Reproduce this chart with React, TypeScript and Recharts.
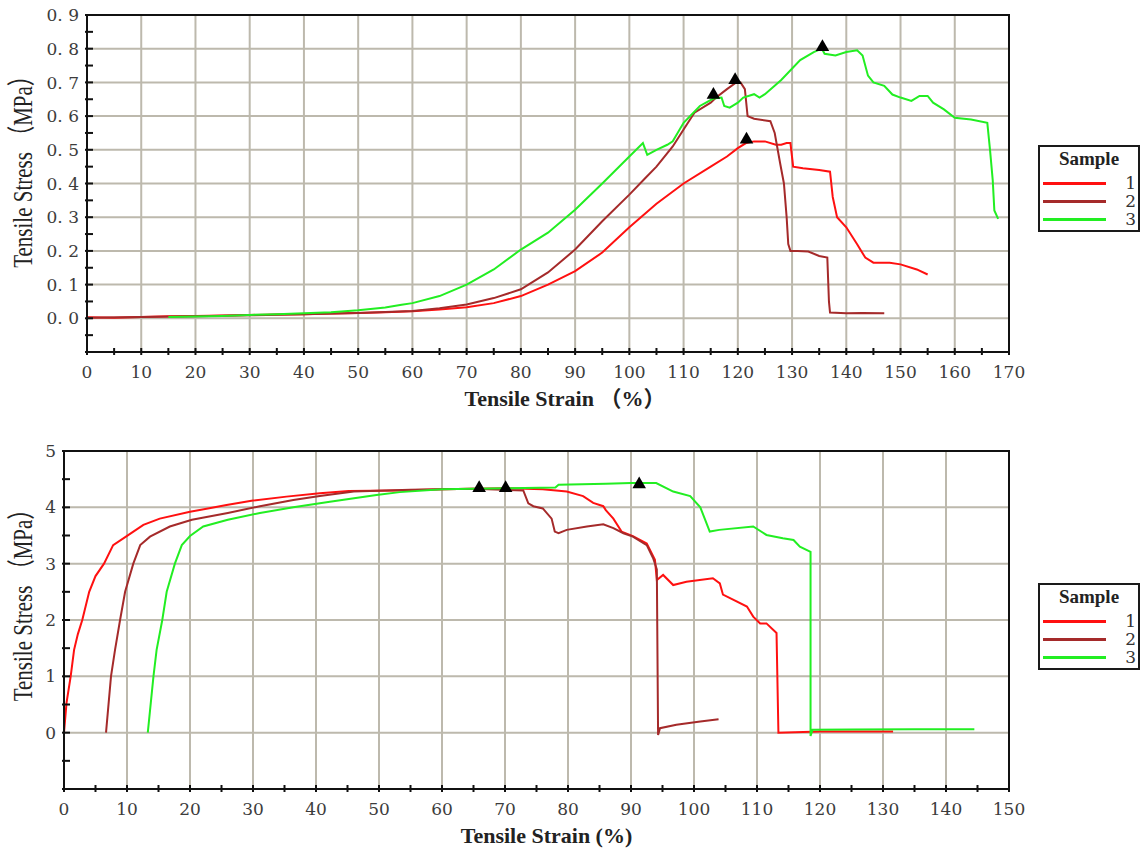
import { ComposedChart, Line, Scatter, XAxis, YAxis, ZAxis, CartesianGrid, Legend, Label, ReferenceArea } from 'recharts';

// ---- upper test: strain (%) vs stress (MPa) ----
const sample1Top: [number, number][] = [
  [0, 0.003], [5, 0.002], [10, 0.004], [15, 0.006], [20, 0.007], [25, 0.008], [30, 0.01], [35, 0.011],
  [40, 0.012], [45, 0.014], [50, 0.016], [55, 0.018], [60, 0.021], [65, 0.026], [70, 0.033], [75, 0.045],
  [80, 0.066], [85, 0.1], [90, 0.14], [95, 0.195], [100, 0.27], [105, 0.34], [110, 0.4], [115, 0.45],
  [118, 0.48], [120, 0.505], [121.5, 0.52], [123, 0.525], [125, 0.525], [127, 0.515], [128, 0.515],
  [129, 0.52], [129.7, 0.52], [130.2, 0.45], [132, 0.445], [135, 0.44], [137, 0.435], [137.5, 0.36],
  [138.3, 0.3], [140, 0.27], [142, 0.22], [143.5, 0.18], [145, 0.165], [148, 0.165], [150, 0.16],
  [153, 0.145], [155, 0.13],
];
const sample2Top: [number, number][] = [
  [0, 0.002], [10, 0.004], [20, 0.006], [30, 0.009], [40, 0.012], [50, 0.016], [60, 0.022], [65, 0.03],
  [70, 0.041], [75, 0.06], [80, 0.086], [85, 0.136], [90, 0.204], [95, 0.288], [100, 0.367], [103, 0.417],
  [105, 0.45], [108, 0.51], [110, 0.56], [112, 0.61], [115, 0.64], [116, 0.655], [118, 0.68], [119.7, 0.7],
  [120.5, 0.7], [121.3, 0.68], [121.8, 0.6], [123, 0.592], [126, 0.585], [126.8, 0.55], [127.8, 0.46],
  [128.5, 0.4], [129, 0.3], [129.3, 0.22], [129.7, 0.2], [131, 0.2], [133, 0.198], [135, 0.185],
  [136.5, 0.18], [136.8, 0.05], [137, 0.017], [140, 0.015], [143, 0.016], [147, 0.015],
];
const sample3Top: [number, number][] = [
  [15, 0.004], [20, 0.005], [25, 0.007], [30, 0.01], [35, 0.012], [40, 0.015], [45, 0.018], [50, 0.024],
  [55, 0.032], [58, 0.04], [60, 0.045], [65, 0.066], [70, 0.1], [75, 0.145], [80, 0.204], [85, 0.254],
  [90, 0.322], [95, 0.4], [100, 0.48], [102.5, 0.52], [103.3, 0.485], [105, 0.5], [107, 0.515], [108, 0.525],
  [110, 0.58], [113, 0.63], [115.5, 0.652], [117, 0.655], [117.5, 0.63], [118.5, 0.625], [120, 0.64],
  [121, 0.655], [123, 0.665], [124, 0.655], [125, 0.665], [128, 0.707], [131.5, 0.766], [134, 0.79],
  [135.5, 0.8], [136, 0.785], [138, 0.78], [140, 0.79], [142, 0.795], [143, 0.78], [144, 0.72], [145, 0.7],
  [147, 0.69], [148.5, 0.664], [150, 0.655], [152, 0.645], [153.5, 0.66], [155, 0.66], [156, 0.64],
  [158, 0.62], [160, 0.595], [163, 0.59], [166, 0.58], [166.5, 0.5], [167, 0.41], [167.3, 0.32], [168, 0.295],
];
const peaksTop: [number, number][] = [[115.5, 0.663], [119.5, 0.707], [121.6, 0.53], [135.6, 0.805]];

// ---- lower test ----
const sample1Bottom: [number, number][] = [
  [0, 0], [0.4, 0.53], [1.06, 1.0], [1.6, 1.47], [2.2, 1.75], [2.9, 2.0], [4.0, 2.5], [5, 2.78], [6.35, 3.0],
  [7.8, 3.33], [9.95, 3.49], [12.6, 3.69], [15.2, 3.8], [20, 3.92], [25.8, 4.04], [30, 4.12], [35.3, 4.19],
  [40.6, 4.25], [45.2, 4.29], [53, 4.3], [60, 4.32], [65, 4.33], [70, 4.34], [76, 4.32], [79.8, 4.28],
  [82.4, 4.2], [84, 4.08], [85.6, 4.02], [86, 3.95], [87.2, 3.8], [88.5, 3.57], [90.3, 3.49], [92.5, 3.36],
  [93.8, 3.07], [94.1, 2.71], [95.1, 2.8], [96.7, 2.62], [98.8, 2.68], [103, 2.74], [104.1, 2.65],
  [104.6, 2.45], [106.2, 2.36], [108.4, 2.24], [109.4, 2.06], [110.5, 1.94], [111.5, 1.94], [113.1, 1.77],
  [113.4, 0], [120, 0.02], [125, 0.02], [131.6, 0.02],
];
const sample2Bottom: [number, number][] = [
  [6.67, 0], [7.46, 1.0], [8.1, 1.47], [8.9, 2.0], [9.7, 2.5], [11, 3.0], [12.1, 3.33], [13.65, 3.48],
  [16.8, 3.66], [20.3, 3.78], [26, 3.9], [31.1, 4.02], [36.4, 4.13], [40.6, 4.2], [46, 4.28], [55, 4.31],
  [65, 4.33], [72.9, 4.3], [73.7, 4.07], [74.5, 4.02], [76, 3.98], [77.4, 3.8], [77.9, 3.57], [78.5, 3.54],
  [79.8, 3.6], [83, 3.66], [85.6, 3.7], [87.2, 3.63], [88.8, 3.54], [90.3, 3.48], [92.5, 3.33], [93.5, 3.1],
  [94.1, 2.9], [94.3, -0.04], [94.6, 0.08], [97.2, 0.14], [101, 0.2], [103.9, 0.24],
];
const sample3Bottom: [number, number][] = [
  [13.3, 0], [14.2, 1.0], [14.7, 1.47], [15.6, 2.0], [16.3, 2.5], [17.6, 3.0], [18.7, 3.33], [20, 3.49],
  [22.1, 3.66], [26, 3.78], [31.1, 3.9], [36.4, 4.0], [42.2, 4.1], [49.6, 4.22], [53.3, 4.27], [60, 4.32],
  [70, 4.34], [78, 4.35], [78.5, 4.4], [86, 4.42], [90, 4.43], [94, 4.43], [96.7, 4.28], [99.4, 4.2],
  [101, 4.0], [101.7, 3.8], [102.5, 3.57], [104, 3.6], [109.4, 3.66], [111.5, 3.51], [114.1, 3.45],
  [115.8, 3.42], [116.8, 3.3], [118.5, 3.21], [118.5, -0.06], [118.8, 0.05], [125, 0.055], [135, 0.06],
  [144.5, 0.06],
];
const peaksBottom: [number, number][] = [[65.9, 4.34], [70.1, 4.34], [91.3, 4.41]];

// ticks (every minor step; labels only on the major ones)
const topStrainTicks = Array.from({ length: 35 }, (_, i) => i * 5);
const topStressTicks = Array.from({ length: 21 }, (_, i) => Math.round((i * 0.05 - 0.1) * 100) / 100);
const bottomStrainTicks = Array.from({ length: 31 }, (_, i) => i * 5);
const bottomStressTicks = Array.from({ length: 13 }, (_, i) => i * 0.5 - 1);

const sampleNames = ['1', '2', '3'];
const RED = '#ff1010';
const BROWN = '#a52a2a';
const GREEN = '#22ee22';
const GRID = '#bdb9ad';
const TICK_FONT = '"DejaVu Serif", serif';
const TITLE_FONT = '"Liberation Serif", "Noto Sans CJK SC", serif';
const M = 8;

const pts = (rows: [number, number][]) => rows.map(([x, y]) => ({ x, y }));

function makeXTick(fmt: (v: number) => string) {
  return (props: any) => {
    const { x, y, payload } = props;
    const axisY = y - M;
    const label = fmt(payload.value);
    return (
      <g>
        <line x1={x} x2={x} y1={axisY - 4} y2={axisY + 3} stroke="#111" strokeWidth={2} />
        {label && (
          <text x={x} y={axisY + 26} textAnchor="middle" fontFamily={TICK_FONT} fontSize={17} fill="#3c3c3c">
            {label}
          </text>
        )}
      </g>
    );
  };
}

function makeYTick(fmt: (v: number) => string) {
  return (props: any) => {
    const { x, y, payload } = props;
    const axisX = x + M;
    const label = fmt(payload.value);
    return (
      <g>
        <line x1={axisX - 2} x2={axisX + 6} y1={y} y2={y} stroke="#111" strokeWidth={2} />
        {label && (
          <text x={axisX - 8} y={y} dy="0.36em" textAnchor="end" fontFamily={TICK_FONT} fontSize={17} fill="#3c3c3c">
            {label}
          </text>
        )}
      </g>
    );
  };
}

function SampleLegend(props: any) {
  const items = (props.payload || []).filter((p: any) => p.type !== 'none');
  return (
    <div
      style={{
        boxSizing: 'border-box', width: 102, height: 87, border: '2px solid #1a1a1a', background: '#fff',
        color: '#222',
      }}
    >
      <div style={{ textAlign: 'center', fontFamily: TITLE_FONT, fontWeight: 'bold', fontSize: 19, lineHeight: '20px', marginTop: 2, marginBottom: 5 }}>
        Sample
      </div>
      {items.map((it: any) => (
        <div key={it.value} style={{ display: 'flex', alignItems: 'center', height: 18 }}>
          <div style={{ marginLeft: 3, width: 63, height: 3, background: it.color }} />
          <div style={{ flex: 1, textAlign: 'right', paddingRight: 2, fontFamily: TICK_FONT, fontSize: 17, lineHeight: '18px', color: '#333' }}>
            {it.value}
          </div>
        </div>
      ))}
    </div>
  );
}

function yTitle(text: string, shift: number) {
  return ({ viewBox }: any) => {
    const x = viewBox.x + 32;
    const y = viewBox.y + viewBox.height / 2 + shift;
    return (
      <text transform={`translate(${x},${y}) scale(1.35,1) rotate(-90)`} textAnchor="middle" fontFamily={TITLE_FONT} fontSize={21} fill="#222">
        {text}
      </text>
    );
  };
}

function xTitle(text: string, shift: number) {
  return ({ viewBox }: any) => (
    <text x={viewBox.x + viewBox.width / 2 + shift} y={viewBox.y + 54} textAnchor="middle" fontFamily={TITLE_FONT} fontWeight="bold" fontSize={22} fill="#222">
      {text}
    </text>
  );
}

interface PanelProps {
  series: [number, number][][];
  peaks: [number, number][];
  xDomain: [number, number];
  yDomain: [number, number];
  xTicks: number[];
  yTicks: number[];
  xFmt: (v: number) => string;
  yFmt: (v: number) => string;
  gridX: number[];
  gridY: number[];
  height: number;
  top: number;
  yAxisWidth: number;
  xAxisHeight: number;
  xLabel: string;
  xShift: number;
  yShift: number;
  legendTop: number;
}

function Panel(p: PanelProps) {
  const colors = [RED, BROWN, GREEN];
  return (
    <ComposedChart width={1143} height={p.height} margin={{ top: p.top, right: 134, bottom: 0, left: 0 }}>
      <CartesianGrid stroke={GRID} strokeWidth={2} verticalValues={p.gridX} horizontalValues={p.gridY} />
      <ReferenceArea
        x1={p.xDomain[0]} x2={p.xDomain[1]} y1={p.yDomain[0]} y2={p.yDomain[1]}
        fill="none" fillOpacity={0} stroke="#111" strokeWidth={2} ifOverflow="visible"
      />
      <XAxis
        dataKey="x" type="number" domain={p.xDomain} ticks={p.xTicks} interval={0} allowDataOverflow
        height={p.xAxisHeight} tickSize={0} tickMargin={M} tickLine={false}
        axisLine={{ stroke: '#111', strokeWidth: 2 }} tick={makeXTick(p.xFmt)}
      >
        <Label content={xTitle(p.xLabel, p.xShift)} />
      </XAxis>
      <YAxis
        dataKey="y" type="number" domain={p.yDomain} ticks={p.yTicks} interval={0} allowDataOverflow
        width={p.yAxisWidth} tickSize={0} tickMargin={M} tickLine={false}
        axisLine={{ stroke: '#111', strokeWidth: 2 }} tick={makeYTick(p.yFmt)}
      >
        <Label content={yTitle('Tensile Stress （MPa）', p.yShift)} />
      </YAxis>
      <ZAxis range={[80, 80]} />
      {p.series.map((s, i) => (
        <Line
          key={sampleNames[i]} data={pts(s)} dataKey="y" name={sampleNames[i]} type="linear"
          stroke={colors[i]} strokeWidth={2} dot={false} activeDot={false} isAnimationActive={false}
        />
      ))}
      <Scatter data={pts(p.peaks)} dataKey="y" shape="triangle" fill="#000" legendType="none" isAnimationActive={false} />
      <Legend
        layout="vertical" align="center" verticalAlign="middle" content={<SampleLegend />}
        wrapperStyle={{ left: 1038, top: p.legendTop, width: 102, height: 87 }}
      />
    </ComposedChart>
  );
}

export default function App() {
  return (
    <div style={{ position: 'absolute', left: 0, top: 0, width: 1143, height: 851, background: '#fff' }}>
      <div style={{ position: 'absolute', left: 0, top: 0 }}>
        <Panel
          series={[sample1Top, sample2Top, sample3Top]} peaks={peaksTop}
          xDomain={[0, 170]} yDomain={[-0.1, 0.9]} xTicks={topStrainTicks} yTicks={topStressTicks}
          xFmt={(v) => (v % 10 === 0 ? String(v) : '')}
          yFmt={(v) => (v >= 0 && Math.round(v * 100) % 10 === 0 ? v.toFixed(1).replace('.', '. ') : '')}
          gridX={[10, 20, 30, 40, 50, 60, 70, 80, 90, 100, 110, 120, 130, 140, 150, 160]}
          gridY={[0, 0.1, 0.2, 0.3, 0.4, 0.5, 0.6, 0.7, 0.8]}
          height={420} top={15} yAxisWidth={87} xAxisHeight={68}
          xLabel="Tensile Strain （%）" xShift={17} yShift={-17} legendTop={145}
        />
      </div>
      <div style={{ position: 'absolute', left: 0, top: 430 }}>
        <Panel
          series={[sample1Bottom, sample2Bottom, sample3Bottom]} peaks={peaksBottom}
          xDomain={[0, 150]} yDomain={[-1, 5]} xTicks={bottomStrainTicks} yTicks={bottomStressTicks}
          xFmt={(v) => (v % 10 === 0 ? String(v) : '')}
          yFmt={(v) => (v >= 0 && Number.isInteger(v) ? String(v) : '')}
          gridX={[10, 20, 30, 40, 50, 60, 70, 80, 90, 100, 110, 120, 130, 140]}
          gridY={[0, 1, 2, 3, 4]}
          height={421} top={21} yAxisWidth={64} xAxisHeight={62}
          xLabel="Tensile Strain (%)" xShift={10} yShift={-20} legendTop={153}
        />
      </div>
    </div>
  );
}
